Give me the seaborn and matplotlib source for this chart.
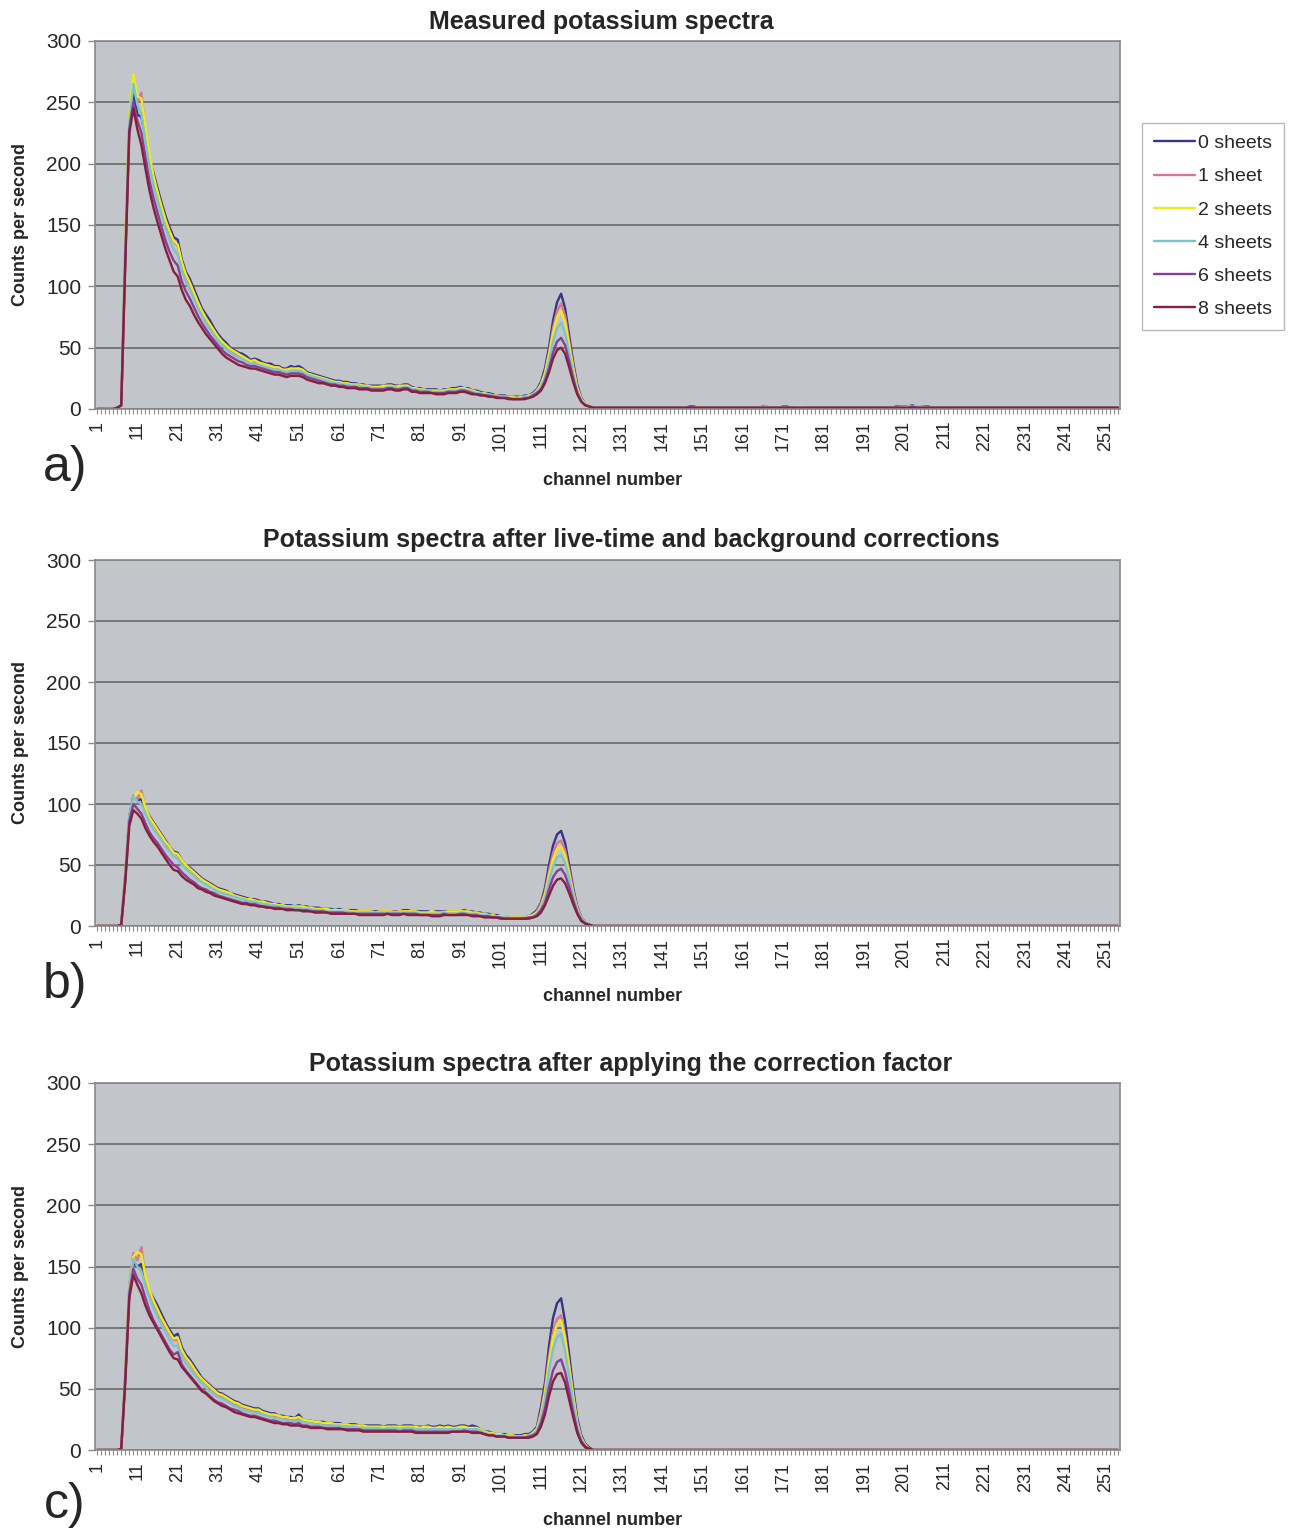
import numpy as np
import pandas as pd
import matplotlib
matplotlib.use("Agg")
import matplotlib.pyplot as plt
import seaborn as sns

# ---------------------------------------------------------------- data
SERIES = ["0 sheets", "1 sheet", "2 sheets", "4 sheets", "6 sheets", "8 sheets"]
COLORS = ["#38348c", "#dc7690", "#ecec1c", "#7cc4cc", "#8a3e98", "#84203e"]
N_CHANNELS = 254
CHANNEL_TICKS = list(range(1, 252, 10))
Y_TICKS = [0, 50, 100, 150, 200, 250, 300]
TITLES = ["Measured potassium spectra",
          "Potassium spectra after live-time and background corrections",
          "Potassium spectra after applying the correction factor"]
PANEL_TAGS = ["a)", "b)", "c)"]

# counts per second, channels 1-130 (lists) and 131-254 (digit strings)
# --- a) measured
a_0 = [0, 0, 0, 0, 0, 1, 3, 130, 235, 258,
       240, 238, 222, 205, 192, 180, 168, 157, 148, 140,
       138, 122, 112, 106, 98, 90, 82, 77, 72, 66,
       61, 57, 54, 50, 48, 46, 45, 43, 40, 41,
       40, 38, 37, 37, 35, 35, 33, 33, 35, 34,
       35, 33, 30, 29, 28, 27, 26, 25, 24, 23,
       23, 22, 22, 21, 21, 20, 20, 19, 19, 19,
       19, 19, 20, 20, 19, 19, 20, 20, 18, 17,
       17, 16, 16, 16, 16, 15, 16, 16, 17, 17,
       18, 17, 17, 15, 15, 14, 13, 13, 12, 11,
       11, 11, 10, 10, 10, 10, 11, 11, 13, 16,
       22, 33, 50, 72, 87, 94, 82, 60, 38, 20,
       9, 4, 2, 1, 1, 1, 1, 1, 1, 1]
a_1 = [0, 0, 0, 0, 0, 1, 3, 125, 232, 265,
       250, 258, 225, 203, 188, 175, 163, 152, 143, 136,
       133, 118, 108, 101, 94, 86, 79, 73, 68, 63,
       58, 54, 51, 48, 46, 44, 43, 41, 39, 39,
       38, 37, 36, 35, 34, 33, 32, 32, 33, 32,
       33, 31, 29, 28, 27, 26, 25, 24, 23, 22,
       22, 21, 21, 20, 20, 19, 19, 19, 18, 18,
       18, 18, 19, 19, 18, 18, 19, 19, 17, 16,
       16, 15, 15, 15, 15, 15, 15, 15, 16, 16,
       17, 16, 16, 14, 14, 13, 12, 12, 11, 11,
       10, 10, 10, 9, 9, 9, 10, 11, 12, 15,
       20, 30, 46, 66, 80, 86, 76, 55, 35, 18,
       8, 4, 2, 1, 1, 1, 1, 1, 1, 1]
a_2 = [0, 0, 0, 0, 0, 1, 3, 135, 240, 273,
       255, 253, 230, 208, 190, 177, 165, 154, 145, 137,
       134, 120, 110, 103, 95, 87, 80, 74, 69, 64,
       59, 55, 52, 49, 47, 45, 43, 41, 39, 40,
       38, 37, 36, 35, 34, 34, 32, 32, 33, 33,
       33, 32, 29, 28, 27, 26, 25, 24, 23, 22,
       22, 21, 21, 20, 20, 20, 19, 19, 18, 18,
       18, 19, 19, 19, 18, 19, 19, 19, 17, 17,
       16, 16, 15, 15, 15, 15, 15, 16, 16, 16,
       17, 17, 16, 15, 14, 13, 13, 12, 11, 11,
       10, 10, 10, 10, 9, 10, 10, 11, 12, 15,
       20, 29, 44, 62, 75, 80, 71, 52, 33, 17,
       8, 4, 2, 1, 1, 1, 1, 1, 1, 1]
a_4 = [0, 0, 0, 0, 0, 1, 3, 128, 235, 265,
       248, 240, 218, 198, 182, 170, 158, 147, 138, 130,
       126, 113, 104, 97, 90, 82, 76, 70, 65, 60,
       56, 52, 49, 46, 44, 42, 41, 39, 37, 37,
       36, 35, 34, 33, 32, 32, 31, 30, 31, 31,
       31, 30, 28, 27, 26, 25, 24, 23, 22, 21,
       21, 20, 20, 19, 19, 19, 18, 18, 17, 17,
       17, 17, 18, 18, 17, 17, 18, 18, 16, 16,
       15, 15, 15, 14, 14, 14, 14, 15, 15, 15,
       16, 16, 15, 14, 13, 13, 12, 12, 11, 10,
       10, 10, 9, 9, 9, 9, 10, 10, 12, 14,
       18, 26, 39, 55, 66, 70, 62, 46, 29, 15,
       7, 3, 2, 1, 1, 1, 1, 1, 1, 1]
a_6 = [0, 0, 0, 0, 0, 1, 3, 120, 228, 250,
       235, 225, 205, 186, 172, 160, 148, 137, 128, 121,
       117, 104, 96, 90, 83, 76, 70, 65, 60, 56,
       52, 48, 45, 43, 41, 39, 38, 36, 35, 35,
       34, 33, 32, 31, 30, 30, 29, 28, 29, 29,
       29, 28, 26, 25, 24, 23, 22, 21, 20, 20,
       19, 19, 18, 18, 18, 17, 17, 17, 16, 16,
       16, 16, 17, 17, 16, 16, 17, 17, 15, 15,
       14, 14, 14, 13, 13, 13, 13, 14, 14, 14,
       15, 15, 14, 13, 12, 12, 11, 11, 10, 10,
       9, 9, 9, 8, 8, 8, 9, 9, 11, 13,
       16, 23, 33, 46, 55, 58, 52, 39, 25, 13,
       6, 3, 2, 1, 1, 1, 1, 1, 1, 1]
a_8 = [0, 0, 0, 0, 0, 1, 3, 118, 225, 245,
       228, 215, 196, 178, 164, 152, 141, 130, 121, 112,
       108, 97, 89, 84, 77, 71, 66, 61, 57, 53,
       49, 45, 42, 40, 38, 36, 35, 34, 33, 33,
       32, 31, 30, 29, 28, 28, 27, 26, 27, 27,
       27, 26, 24, 23, 22, 21, 21, 20, 19, 19,
       18, 18, 17, 17, 17, 16, 16, 16, 15, 15,
       15, 15, 16, 16, 15, 15, 16, 16, 14, 14,
       13, 13, 13, 13, 12, 12, 12, 13, 13, 13,
       14, 14, 13, 12, 12, 11, 11, 10, 10, 9,
       9, 9, 8, 8, 8, 8, 8, 9, 10, 12,
       15, 21, 30, 41, 48, 50, 45, 34, 22, 12,
       6, 3, 2, 1, 1, 1, 1, 1, 1, 1]
a_0_tail = "1111111111 1111111221 1111111111 1111121111 2211111111 1111111111 1111111122 2232222111 1111111111 1111111111 1111111111 1111111111 1111"
a_1_tail = "1111111111 1111111111 1111111111 1111122111 1111111111 1111111111 1111111112 2222221111 1111111111 1111111111 1111111111 1111111111 1111"
a_2_tail = "1111111111 1111111111 1111111111 1111111111 1111211111 1111111111 1111111111 1222211111 1111111111 1111111111 1111111111 1111111111 1111"
a_4_tail = "1111111111 1111111111 1111111111 1111111111 1111111111 1111111111 1111111111 1122111111 1111111111 1111111111 1111111111 1111111111 1111"
a_6_tail = "1111111111 1111111211 1111111111 1111111111 1111111111 1111111111 1111111111 1121111111 1111111111 1111111111 1111111111 1111111111 1111"
a_8_tail = "1111111111 1111111111 1111111111 1111111111 1111111111 1111111111 1111111111 1111111111 1111111111 1111111111 1111111111 1111111111 1111"

# --- b) after live-time and background corrections
b_0 = [0, 0, 0, 0, 0, 0, 1, 42, 90, 106,
       103, 104, 96, 90, 85, 80, 75, 70, 65, 61,
       60, 54, 50, 48, 45, 42, 39, 37, 35, 33,
       31, 30, 29, 27, 26, 25, 24, 23, 22, 22,
       21, 20, 20, 19, 18, 18, 17, 17, 17, 16,
       17, 16, 16, 15, 15, 15, 14, 14, 14, 13,
       14, 13, 13, 13, 13, 12, 12, 12, 12, 12,
       12, 12, 12, 12, 12, 12, 13, 13, 12, 12,
       12, 12, 12, 11, 12, 12, 12, 12, 12, 12,
       12, 13, 12, 12, 11, 11, 10, 10, 9, 9,
       8, 8, 7, 7, 7, 7, 7, 8, 10, 13,
       19, 31, 50, 66, 75, 78, 68, 50, 31, 16,
       7, 3, 1, 0, 0, 0, 0, 0, 0, 0]
b_1 = [0, 0, 0, 0, 0, 0, 1, 40, 88, 107,
       104, 111, 95, 88, 83, 78, 73, 68, 64, 60,
       58, 53, 49, 46, 43, 40, 38, 36, 34, 32,
       30, 29, 28, 26, 25, 24, 23, 22, 21, 21,
       20, 19, 19, 18, 18, 17, 17, 16, 16, 16,
       16, 15, 15, 15, 14, 14, 14, 13, 13, 13,
       13, 13, 12, 12, 12, 12, 12, 12, 11, 11,
       11, 12, 12, 11, 12, 12, 12, 12, 12, 11,
       11, 11, 11, 11, 11, 11, 12, 11, 11, 11,
       12, 12, 11, 11, 11, 10, 10, 9, 9, 8,
       8, 7, 7, 7, 7, 7, 7, 8, 9, 12,
       18, 28, 45, 60, 68, 70, 62, 46, 29, 15,
       7, 3, 1, 0, 0, 0, 0, 0, 0, 0]
b_2 = [0, 0, 0, 0, 0, 0, 1, 41, 89, 104,
       110, 108, 97, 89, 84, 79, 74, 69, 65, 60,
       59, 54, 50, 47, 44, 41, 38, 36, 34, 32,
       30, 29, 28, 27, 25, 24, 23, 22, 22, 21,
       20, 20, 19, 18, 18, 17, 17, 16, 16, 16,
       16, 16, 15, 15, 14, 14, 14, 14, 13, 13,
       13, 13, 13, 12, 12, 12, 12, 12, 12, 11,
       12, 12, 12, 12, 11, 12, 12, 12, 12, 12,
       11, 11, 11, 12, 11, 11, 11, 12, 12, 12,
       12, 12, 12, 11, 11, 10, 10, 9, 9, 8,
       8, 8, 7, 7, 7, 7, 7, 8, 9, 11,
       16, 26, 41, 55, 63, 65, 58, 43, 27, 14,
       6, 3, 1, 0, 0, 0, 0, 0, 0, 0]
b_4 = [0, 0, 0, 0, 0, 0, 1, 40, 90, 106,
       102, 100, 92, 85, 79, 75, 70, 65, 61, 57,
       55, 50, 47, 44, 41, 38, 36, 34, 32, 30,
       28, 27, 26, 25, 24, 23, 22, 21, 20, 20,
       19, 18, 18, 17, 17, 16, 16, 15, 15, 15,
       15, 14, 14, 14, 13, 13, 13, 12, 12, 12,
       12, 12, 12, 11, 11, 11, 11, 11, 11, 11,
       11, 11, 11, 11, 11, 11, 11, 11, 11, 11,
       10, 10, 10, 10, 10, 10, 11, 10, 10, 10,
       11, 11, 10, 10, 10, 9, 9, 9, 8, 8,
       7, 7, 7, 6, 6, 6, 7, 7, 8, 10,
       15, 23, 37, 49, 56, 58, 52, 39, 25, 13,
       6, 3, 1, 0, 0, 0, 0, 0, 0, 0]
b_6 = [0, 0, 0, 0, 0, 0, 1, 38, 86, 100,
       96, 92, 84, 77, 72, 68, 63, 58, 54, 50,
       48, 44, 41, 38, 36, 33, 31, 30, 28, 27,
       25, 24, 23, 22, 21, 20, 19, 19, 18, 18,
       17, 16, 16, 15, 15, 15, 14, 14, 14, 13,
       13, 13, 13, 12, 12, 12, 12, 11, 11, 11,
       11, 11, 10, 10, 10, 10, 10, 10, 10, 10,
       10, 10, 10, 10, 10, 10, 10, 10, 10, 10,
       9, 9, 9, 9, 9, 9, 10, 9, 9, 9,
       10, 10, 9, 9, 9, 8, 8, 8, 7, 7,
       7, 6, 6, 6, 6, 6, 6, 7, 7, 9,
       13, 19, 30, 40, 45, 47, 42, 32, 21, 11,
       5, 2, 1, 0, 0, 0, 0, 0, 0, 0]
b_8 = [0, 0, 0, 0, 0, 0, 1, 36, 82, 95,
       92, 88, 80, 74, 69, 65, 60, 55, 50, 46,
       45, 41, 38, 36, 34, 31, 30, 28, 27, 25,
       24, 23, 22, 21, 20, 19, 18, 18, 17, 17,
       16, 16, 15, 15, 14, 14, 14, 13, 13, 13,
       13, 12, 12, 12, 11, 11, 11, 11, 10, 10,
       10, 10, 10, 10, 10, 9, 9, 9, 9, 9,
       9, 9, 10, 9, 9, 9, 10, 9, 9, 9,
       9, 9, 9, 8, 8, 8, 9, 9, 9, 9,
       9, 9, 9, 8, 8, 8, 7, 7, 7, 7,
       6, 6, 6, 6, 6, 6, 6, 6, 7, 8,
       11, 17, 25, 33, 38, 39, 35, 27, 18, 10,
       4, 2, 1, 0, 0, 0, 0, 0, 0, 0]
b_tail = "0000000000 0000000000 0000000000 0000000000 0000000000 0000000000 0000000000 0000000000 0000000000 0000000000 0000000000 0000000000 0000"

# --- c) after applying the correction factor
c_0 = [0, 0, 0, 0, 0, 0, 1, 60, 130, 153,
       150, 152, 140, 130, 124, 118, 111, 104, 98, 93,
       95, 84, 78, 74, 69, 64, 59, 56, 53, 50,
       47, 46, 44, 42, 40, 39, 37, 36, 35, 34,
       34, 32, 31, 30, 30, 28, 28, 27, 27, 26,
       29, 25, 24, 24, 23, 23, 23, 22, 22, 22,
       22, 21, 21, 21, 21, 20, 20, 20, 20, 20,
       20, 19, 20, 20, 20, 19, 20, 20, 20, 19,
       19, 19, 20, 19, 19, 20, 19, 20, 19, 19,
       20, 20, 19, 20, 19, 17, 15, 15, 14, 13,
       13, 13, 12, 12, 12, 12, 13, 13, 15, 19,
       35, 55, 85, 108, 120, 124, 105, 78, 50, 26,
       12, 5, 2, 0, 0, 0, 0, 0, 0, 0]
c_1 = [0, 0, 0, 0, 0, 0, 1, 62, 135, 161,
       155, 166, 140, 128, 120, 113, 106, 100, 95, 90,
       90, 80, 75, 71, 66, 61, 57, 54, 51, 48,
       45, 44, 42, 40, 38, 37, 35, 34, 33, 32,
       32, 30, 29, 28, 28, 27, 26, 26, 25, 25,
       26, 24, 23, 23, 22, 22, 21, 21, 21, 21,
       21, 20, 20, 20, 20, 19, 19, 19, 19, 19,
       19, 18, 19, 19, 19, 18, 19, 19, 19, 18,
       18, 18, 19, 18, 18, 18, 18, 19, 18, 18,
       19, 19, 18, 18, 18, 16, 15, 14, 13, 13,
       12, 12, 12, 11, 11, 11, 12, 12, 14, 18,
       31, 50, 76, 97, 107, 110, 94, 70, 45, 23,
       10, 4, 1, 0, 0, 0, 0, 0, 0, 0]
c_2 = [0, 0, 0, 0, 0, 0, 1, 61, 133, 158,
       162, 160, 142, 131, 122, 115, 108, 102, 96, 91,
       92, 82, 76, 72, 67, 62, 58, 55, 52, 49,
       46, 45, 43, 41, 39, 38, 36, 35, 34, 33,
       33, 31, 30, 29, 29, 28, 27, 27, 26, 26,
       27, 25, 24, 24, 23, 23, 22, 22, 22, 21,
       21, 21, 21, 20, 20, 20, 20, 19, 19, 19,
       19, 19, 19, 19, 19, 19, 19, 19, 19, 19,
       18, 19, 19, 18, 18, 19, 18, 19, 18, 18,
       19, 19, 18, 18, 18, 17, 15, 14, 14, 13,
       13, 12, 12, 12, 11, 11, 12, 12, 14, 17,
       29, 47, 72, 92, 103, 106, 91, 68, 44, 22,
       10, 4, 1, 0, 0, 0, 0, 0, 0, 0]
c_4 = [0, 0, 0, 0, 0, 0, 1, 60, 132, 156,
       150, 146, 134, 124, 116, 109, 102, 96, 90, 85,
       85, 76, 71, 67, 62, 58, 54, 51, 48, 45,
       43, 42, 40, 38, 36, 35, 33, 32, 31, 30,
       30, 29, 28, 27, 26, 26, 25, 24, 24, 23,
       24, 23, 22, 22, 21, 21, 20, 20, 20, 20,
       20, 19, 19, 19, 19, 18, 18, 18, 18, 18,
       18, 17, 18, 18, 18, 17, 18, 18, 18, 17,
       17, 17, 17, 17, 17, 17, 17, 17, 17, 17,
       17, 17, 17, 17, 17, 16, 14, 13, 13, 12,
       12, 12, 11, 11, 11, 11, 11, 12, 13, 16,
       26, 42, 65, 83, 92, 95, 81, 61, 39, 20,
       9, 3, 1, 0, 0, 0, 0, 0, 0, 0]
c_6 = [0, 0, 0, 0, 0, 0, 1, 58, 128, 148,
       140, 135, 124, 114, 106, 100, 94, 88, 82, 78,
       80, 70, 65, 61, 57, 53, 49, 47, 44, 41,
       39, 38, 36, 34, 33, 32, 30, 29, 28, 28,
       27, 26, 25, 24, 24, 23, 22, 22, 22, 21,
       22, 20, 20, 19, 19, 19, 18, 18, 18, 18,
       18, 17, 17, 17, 17, 17, 16, 16, 16, 16,
       16, 16, 16, 16, 16, 15, 16, 16, 16, 15,
       15, 15, 15, 15, 15, 15, 15, 15, 15, 15,
       15, 16, 15, 15, 15, 14, 13, 12, 12, 11,
       11, 11, 10, 10, 10, 10, 10, 11, 12, 14,
       22, 34, 51, 65, 72, 74, 64, 48, 31, 16,
       7, 3, 1, 0, 0, 0, 0, 0, 0, 0]
c_8 = [0, 0, 0, 0, 0, 0, 1, 55, 124, 143,
       135, 128, 118, 110, 104, 98, 92, 86, 80, 75,
       74, 68, 64, 60, 56, 52, 48, 46, 43, 40,
       38, 36, 35, 33, 31, 30, 29, 28, 27, 27,
       26, 25, 24, 23, 22, 22, 21, 21, 20, 20,
       20, 19, 19, 18, 18, 18, 18, 17, 17, 17,
       17, 17, 16, 16, 16, 16, 15, 15, 15, 15,
       15, 15, 15, 15, 15, 15, 15, 15, 15, 14,
       14, 14, 14, 14, 14, 14, 14, 14, 15, 15,
       15, 15, 15, 14, 14, 14, 13, 12, 12, 11,
       11, 11, 10, 10, 10, 10, 10, 10, 11, 13,
       19, 29, 44, 56, 62, 63, 55, 41, 27, 14,
       6, 2, 1, 0, 0, 0, 0, 0, 0, 0]
c_tail = "0000000000 0000000000 0000000000 0000000000 0000000000 0000000000 0000000000 0000000000 0000000000 0000000000 0000000000 0000000000 0000"


def spectrum(head, tail):
    """Join the listed channels with the digit-coded high-energy channels."""
    vals = list(head) + [int(ch) for ch in tail.replace(" ", "")]
    assert len(vals) == N_CHANNELS, len(vals)
    return vals


PANELS = [
    [spectrum(a_0, a_0_tail), spectrum(a_1, a_1_tail), spectrum(a_2, a_2_tail),
     spectrum(a_4, a_4_tail), spectrum(a_6, a_6_tail), spectrum(a_8, a_8_tail)],
    [spectrum(b_0, b_tail), spectrum(b_1, b_tail), spectrum(b_2, b_tail),
     spectrum(b_4, b_tail), spectrum(b_6, b_tail), spectrum(b_8, b_tail)],
    [spectrum(c_0, c_tail), spectrum(c_1, c_tail), spectrum(c_2, c_tail),
     spectrum(c_4, c_tail), spectrum(c_6, c_tail), spectrum(c_8, c_tail)],
]

# ---------------------------------------------------------------- style
sns.set_style("white")
plt.rcParams["font.family"] = ["Liberation Sans", "DejaVu Sans"]

W, H = 1305, 1537
fig = plt.figure(figsize=(W / 100, H / 100), dpi=100)

# axes boxes in pixels: left, right, top, bottom
boxes = [(95, 1120, 41, 409), (95, 1120, 560, 926), (95, 1120, 1083, 1450)]
title_x = [0.494, 0.523, 0.523]
tag_y = [468, 985, 1505]
palette = dict(zip(SERIES, COLORS))
channels = np.arange(1, N_CHANNELS + 1)

axes = []
for i, (left, right, top, bottom) in enumerate(boxes):
    ax = fig.add_axes([left / W, 1 - bottom / H, (right - left) / W, (bottom - top) / H])
    axes.append(ax)
    df = pd.DataFrame({
        "channel": np.tile(channels, len(SERIES)),
        "cps": np.concatenate(PANELS[i]),
        "sheets": np.repeat(SERIES, N_CHANNELS),
    })
    sns.lineplot(data=df, x="channel", y="cps", hue="sheets", hue_order=SERIES,
                 palette=palette, linewidth=1.7, estimator=None, errorbar=None,
                 legend=(i == 0), ax=ax)

    ax.set_facecolor("#c2c5c9")
    ax.set_xlim(0.5, N_CHANNELS + 0.5)
    ax.set_ylim(0, 300)
    ax.set_yticks(Y_TICKS)
    ax.yaxis.grid(True, color="#6f6f6f", linewidth=1.3)
    ax.xaxis.grid(False)
    ax.set_axisbelow(True)
    for sp in ax.spines.values():
        sp.set_color("#8a8a8a")
        sp.set_linewidth(1.2)
        sp.set_visible(True)

    ax.set_xticks(CHANNEL_TICKS)
    ax.set_xticklabels([str(t) for t in CHANNEL_TICKS], rotation=90, fontsize=13)
    ax.set_xticks(channels, minor=True)
    ax.tick_params(axis="x", which="both", direction="out", length=3.5,
                   width=0.8, color="#8a8a8a", pad=5, bottom=True)
    ax.tick_params(axis="y", which="major", direction="out", length=5,
                   width=1.0, color="#8a8a8a", labelsize=15, pad=5, left=True)

    ax.set_title(TITLES[i], fontsize=18, fontweight="bold", pad=9, x=title_x[i])
    ax.set_xlabel("channel number", fontsize=13, fontweight="bold")
    ax.xaxis.set_label_coords(0.505, -0.193)
    ax.xaxis.label.set_verticalalignment("center")
    ax.set_ylabel("Counts per second", fontsize=13, fontweight="bold")
    ax.yaxis.set_label_coords(-0.073, 0.5)
    ax.yaxis.label.set_verticalalignment("center")

    fig.text(65 / W, 1 - tag_y[i] / H, PANEL_TAGS[i], fontsize=36,
             ha="center", va="center")

handles, labels = axes[0].get_legend_handles_labels()
axes[0].get_legend().remove()
leg = fig.legend(handles, labels, loc="upper left",
                 bbox_to_anchor=(1142 / W, 1 - 123 / H), borderaxespad=0,
                 frameon=True, fancybox=False, edgecolor="#a8a8a8",
                 fontsize=14, handlelength=2.1, handletextpad=0.2,
                 labelspacing=0.8, borderpad=0.6)
leg.get_frame().set_linewidth(1.0)
for line in leg.get_lines():
    line.set_linewidth(1.7)

fig.savefig("out.png", dpi=100)
